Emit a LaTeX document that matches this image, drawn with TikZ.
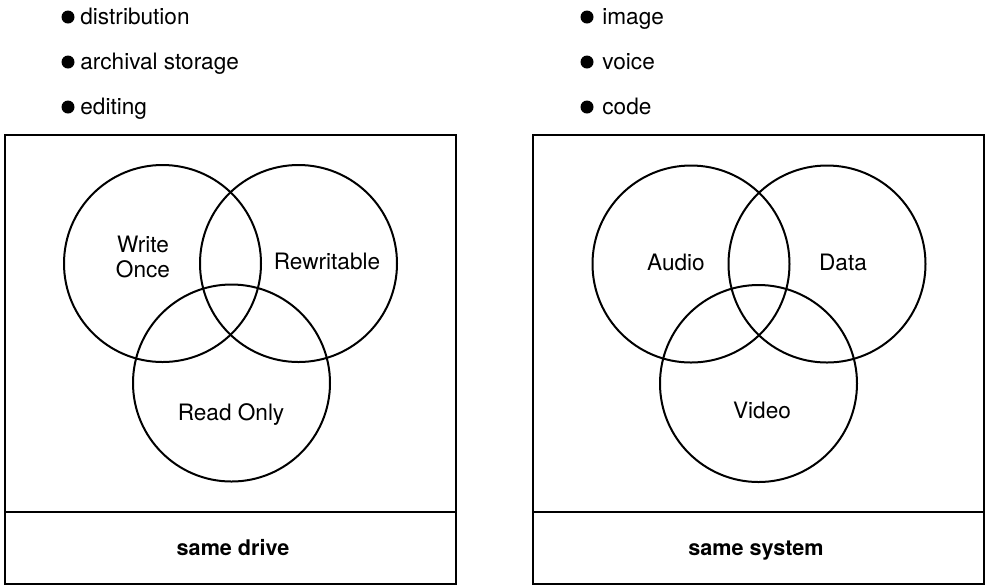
\documentclass[tikz,border=0pt]{standalone}
\usepackage{fontspec}
\setmainfont{TeX Gyre Heros}
\begin{document}
\begin{tikzpicture}[x=0.5pt,y=-0.5pt]
    \tikzset{
        venn/.style={draw, circle, line width=1pt, minimum size=98.5pt, inner sep=0pt},
        lbl/.style={font=\fontsize{11.3}{12.5}\selectfont, align=center, inner sep=0pt},
        item/.style={font=\fontsize{11.3}{12.5}\selectfont, anchor=base west, inner sep=0pt},
        caption/.style={font=\fontsize{10.8}{12.5}\selectfont\bfseries, inner sep=0pt},
        dot/.style={fill, circle, inner sep=0pt, minimum size=6.5pt},
        panel/.style={line width=1.2pt}
    }
    \useasboundingbox (0,0) rectangle (986,586);

    % Uses (left)
    \node[dot] (dl1) at (68,17) {};
    \node[item] (ul1) at (80,24) {distribution};
    \node[dot] (dl2) at (68,62) {};
    \node[item] (ul2) at (80,69) {archival storage};
    \node[dot] (dl3) at (68,107) {};
    \node[item] (ul3) at (80,114) {editing};

    % Uses (right)
    \node[dot] (dr1) at (587,17) {};
    \node[item] (ur1) at (602,24) {image};
    \node[dot] (dr2) at (587,62) {};
    \node[item] (ur2) at (602,69) {voice};
    \node[dot] (dr3) at (587,107) {};
    \node[item] (ur3) at (602,114) {code};

    % Left panel: media types
    \draw[panel] (5,135) rectangle (456,584);
    \draw[panel] (5,512) -- (456,512); % caption bar
    \node[venn] (wonce) at (162.5,263.5) {};
    \node[venn] (rewr) at (298.5,263.5) {};
    \node[venn] (ronly) at (231.5,383) {};
    \node[lbl] (twonce) at (143,257) {Write\\Once};
    \node[lbl] (trewr) at (327,261) {Rewritable};
    \node[lbl] (tronly) at (231,415) {Read Only};
    \node[caption] (drive) at (233,548) {same drive};

    % Right panel: information types
    \draw[panel] (533,135) rectangle (984,584);
    \draw[panel] (533,512) -- (984,512); % caption bar
    \node[venn] (audio) at (691,264) {};
    \node[venn] (data) at (827,264) {};
    \node[venn] (video) at (758.5,383.5) {};
    \node[lbl] (taudio) at (676,262) {Audio};
    \node[lbl] (tdata) at (843,262) {Data};
    \node[lbl] (tvideo) at (762,410) {Video};
    \node[caption] (system) at (756,551) {same system};
\end{tikzpicture}
\end{document}
